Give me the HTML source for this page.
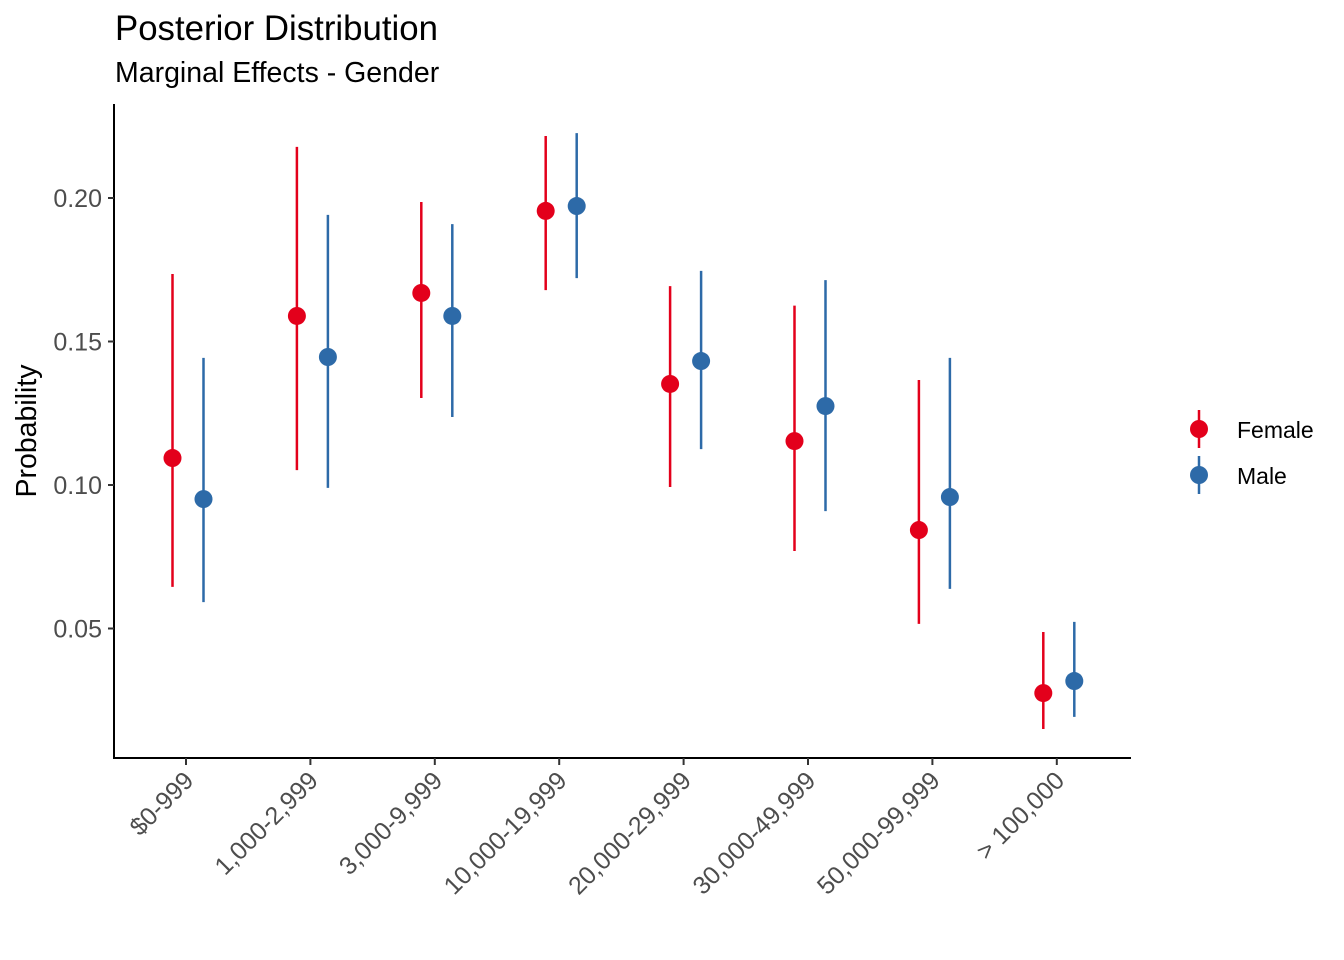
<!DOCTYPE html>
<html><head><meta charset="utf-8"><style>
body{margin:0;background:#fff;}
svg{display:block;font-family:"Liberation Sans",Arial,sans-serif;}
</style></head><body>
<svg id="chart" width="1344" height="960">
<text x="115" y="40" font-size="34.8" fill="#000">Posterior Distribution</text>
<text x="115" y="82" font-size="28.5" fill="#000">Marginal Effects - Gender</text>
<text transform="translate(36,431) rotate(-90)" text-anchor="middle" font-size="28.5" fill="#000">Probability</text>
<line x1="114" y1="104" x2="114" y2="758" stroke="#000" stroke-width="2"/>
<line x1="113" y1="758" x2="1131" y2="758" stroke="#000" stroke-width="2"/>
<g id="yt"></g><g id="xt"></g><g id="marks"></g>
<g>
<g>
<line x1="1199" y1="410" x2="1199" y2="448" stroke="#E3001B" stroke-width="2.5"/>
<circle cx="1199" cy="429" r="9" fill="#E3001B"/>
<text x="1237" y="438" font-size="23" fill="#000">Female</text></g>
<g>
<line x1="1199" y1="456" x2="1199" y2="494" stroke="#2D6AA8" stroke-width="2.5"/>
<circle cx="1199" cy="475" r="9" fill="#2D6AA8"/>
<text x="1237" y="484" font-size="23" fill="#000">Male</text></g>
</g>
</svg>
<script>
const categories=["$0-999","1,000-2,999","3,000-9,999","10,000-19,999","20,000-29,999","30,000-49,999","50,000-99,999","> 100,000"];
const femaleMean=[0.1094,0.1589,0.1669,0.1955,0.1352,0.1153,0.0843,0.0275];
const femaleLow=[0.0645,0.1052,0.1303,0.1679,0.0993,0.0770,0.0516,0.0150];
const femaleHigh=[0.1735,0.2178,0.1986,0.2216,0.1693,0.1625,0.1366,0.0488];
const maleMean=[0.0951,0.1446,0.1589,0.1972,0.1432,0.1275,0.0958,0.0317];
const maleLow=[0.0592,0.0990,0.1237,0.1721,0.1125,0.0909,0.0638,0.0192];
const maleHigh=[0.1443,0.1941,0.1909,0.2226,0.1746,0.1714,0.1443,0.0523];
const yTicks=[0.05,0.10,0.15,0.20];
const NS="http://www.w3.org/2000/svg";
function y(v){return 198+(0.20-v)*2870;}
function x(i){return 186+i*124.4;}
function mk(t,a,p){const e=document.createElementNS(NS,t);for(const k in a)e.setAttribute(k,a[k]);p.appendChild(e);return e;}
const yt=document.getElementById('yt'),xt=document.getElementById('xt'),mg=document.getElementById('marks');
yTicks.forEach(v=>{
 const l=mk('line',{x1:108,x2:114,y1:y(v),y2:y(v),stroke:'#333','stroke-width':2},yt);
 
 
 const t=mk('text',{x:102,y:y(v)+9,'text-anchor':'end','font-size':25,fill:'#4d4d4d'},yt);
 t.textContent=v.toFixed(2);
 
 
});
categories.forEach((c,i)=>{
 const l=mk('line',{x1:x(i),x2:x(i),y1:758,y2:765,stroke:'#333','stroke-width':2},xt);
 
 
 const t=mk('text',{transform:`translate(${x(i)+9},${782}) rotate(-45)`,'text-anchor':'end','font-size':25,fill:'#4d4d4d'},xt);
 t.textContent=c;
 
 
});
function series(m,lo,hi,col,off,name){
 m.forEach((v,i)=>{
  const cx=x(i)+off;
  const l=mk('line',{x1:cx,x2:cx,y1:y(lo[i]),y2:y(hi[i]),stroke:col,'stroke-width':2.5},mg);
  
  
  const p=mk('circle',{cx:cx,cy:y(v),r:9,fill:col},mg);
  
  
 });
}
series(femaleMean,femaleLow,femaleHigh,'#E3001B',-13.5,'female');
series(maleMean,maleLow,maleHigh,'#2D6AA8',17.5,'male');
</script>
</body></html>
